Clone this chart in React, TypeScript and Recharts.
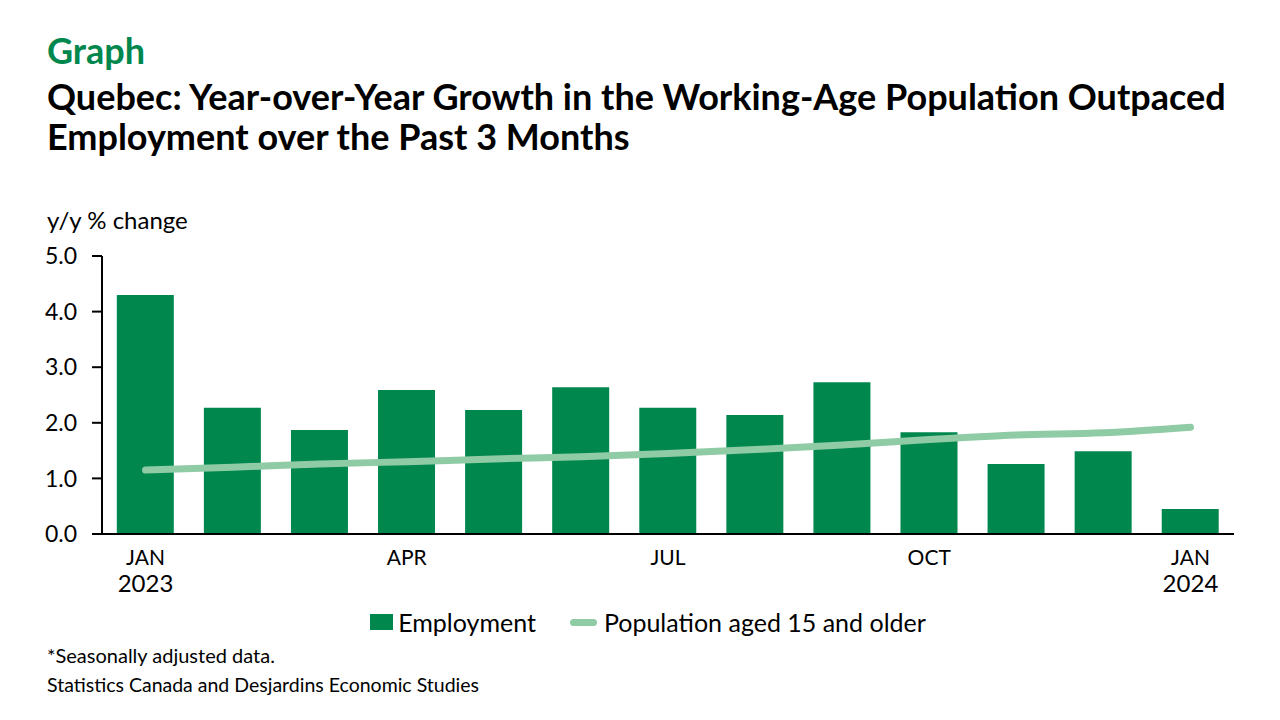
import React from 'react';
import { ComposedChart, Bar, Line, XAxis, YAxis } from 'recharts';

const months = ['JAN', 'FEB', 'MAR', 'APR', 'MAY', 'JUN', 'JUL', 'AUG', 'SEP', 'OCT', 'NOV', 'DEC', 'JAN'];
const years = ['2023', '', '', '', '', '', '', '', '', '', '', '', '2024'];
const shownLabels = [true, false, false, true, false, false, true, false, false, true, false, false, true];
const employment = [4.3, 2.27, 1.87, 2.59, 2.23, 2.64, 2.27, 2.14, 2.73, 1.83, 1.26, 1.49, 0.45];
const population = [1.15, 1.2, 1.26, 1.3, 1.35, 1.39, 1.45, 1.52, 1.6, 1.7, 1.78, 1.82, 1.92];
const yTicks = [0, 1, 2, 3, 4, 5];

const FONT = 'Lato, Carlito, Calibri, sans-serif';
const DARK_GREEN = '#00874E';
const LIGHT_GREEN = '#8FCBA5';

const chartData = months.map((m, i) => ({
  key: `${m}-${i}`,
  month: m,
  year: years[i],
  show: shownLabels[i],
  employment: employment[i],
  population: population[i],
}));

const MonthTick = (props: any) => {
  const { x, y, payload } = props;
  const row = chartData[payload.index];
  if (!row || !row.show) return null;
  return (
    <g transform={`translate(${x},${y})`}>
      <text x={0} y={23} textAnchor="middle" fill="#000" fontSize={21} fontFamily={FONT}>
        {row.month}
      </text>
      {row.year && (
        <text x={0} y={50} textAnchor="middle" fill="#000" fontSize={24} fontFamily={FONT}>
          {row.year}
        </text>
      )}
    </g>
  );
};

export default function App() {
  return (
    <div style={{ position: 'absolute', left: 0, top: 0, width: 1280, height: 720, background: '#fff', fontFamily: FONT }}>
      <div style={{ position: 'absolute', left: 47, top: 29, fontSize: 36, fontWeight: 700, color: DARK_GREEN, lineHeight: '42px' }}>Graph</div>
      <div style={{ position: 'absolute', left: 47, top: 76, fontSize: 36, fontWeight: 700, color: '#000', lineHeight: '40px', width: 1220, whiteSpace: 'nowrap' }}>
        Quebec: Year-over-Year Growth in the Working-Age Population Outpaced
        <br />
        Employment over the Past 3 Months
      </div>
      <div style={{ position: 'absolute', left: 47, top: 205, fontSize: 24, color: '#000', lineHeight: '30px' }}>y/y % change</div>

      <div style={{ position: 'absolute', left: 0, top: 0 }}>
        <ComposedChart
          width={1280}
          height={720}
          data={chartData}
          margin={{ top: 256, right: 46, bottom: 126, left: 22 }}
          barCategoryGap="17%"
        >
          <XAxis
            dataKey="key"
            interval={0}
            tickLine={false}
            axisLine={{ stroke: '#000', strokeWidth: 2 }}
            tick={<MonthTick />}
            height={60}
          />
          <YAxis
            domain={[0, 5]}
            ticks={yTicks}
            width={80}
            tickFormatter={(v: number) => v.toFixed(1)}
            axisLine={{ stroke: '#000', strokeWidth: 2 }}
            tickLine={{ stroke: '#000', strokeWidth: 2 }}
            tickSize={10}
            tickMargin={15}
            tick={{ fill: '#000', fontSize: 23, fontFamily: FONT }}
          />
          <Bar dataKey="employment" name="Employment" fill={DARK_GREEN} isAnimationActive={false} />
          <Line
            dataKey="population"
            name="Population aged 15 and older"
            type="monotone"
            stroke={LIGHT_GREEN}
            strokeWidth={7}
            strokeLinecap="round"
            dot={false}
            activeDot={false}
            isAnimationActive={false}
          />
        </ComposedChart>
      </div>

      <div style={{ position: 'absolute', left: 0, top: 607, width: 1280, display: 'flex', justifyContent: 'center', alignItems: 'center', fontSize: 25, color: '#000', lineHeight: '30px' }}>
        <div style={{ display: 'flex', alignItems: 'center', marginLeft: 16 }}>
          <span style={{ display: 'inline-block', width: 23, height: 16, background: DARK_GREEN, marginRight: 5 }} />
          <span style={{ marginRight: 34 }}>Employment</span>
          <span style={{ display: 'inline-block', width: 27, height: 7, borderRadius: 4, background: LIGHT_GREEN, marginRight: 7 }} />
          <span>Population aged 15 and older</span>
        </div>
      </div>

      <div style={{ position: 'absolute', left: 47, top: 643, fontSize: 20, color: '#000', lineHeight: '24px' }}>*Seasonally adjusted data.</div>
      <div style={{ position: 'absolute', left: 47, top: 673, fontSize: 19.5, color: '#000', lineHeight: '24px' }}>
        Statistics Canada and Desjardins Economic Studies
      </div>
    </div>
  );
}
